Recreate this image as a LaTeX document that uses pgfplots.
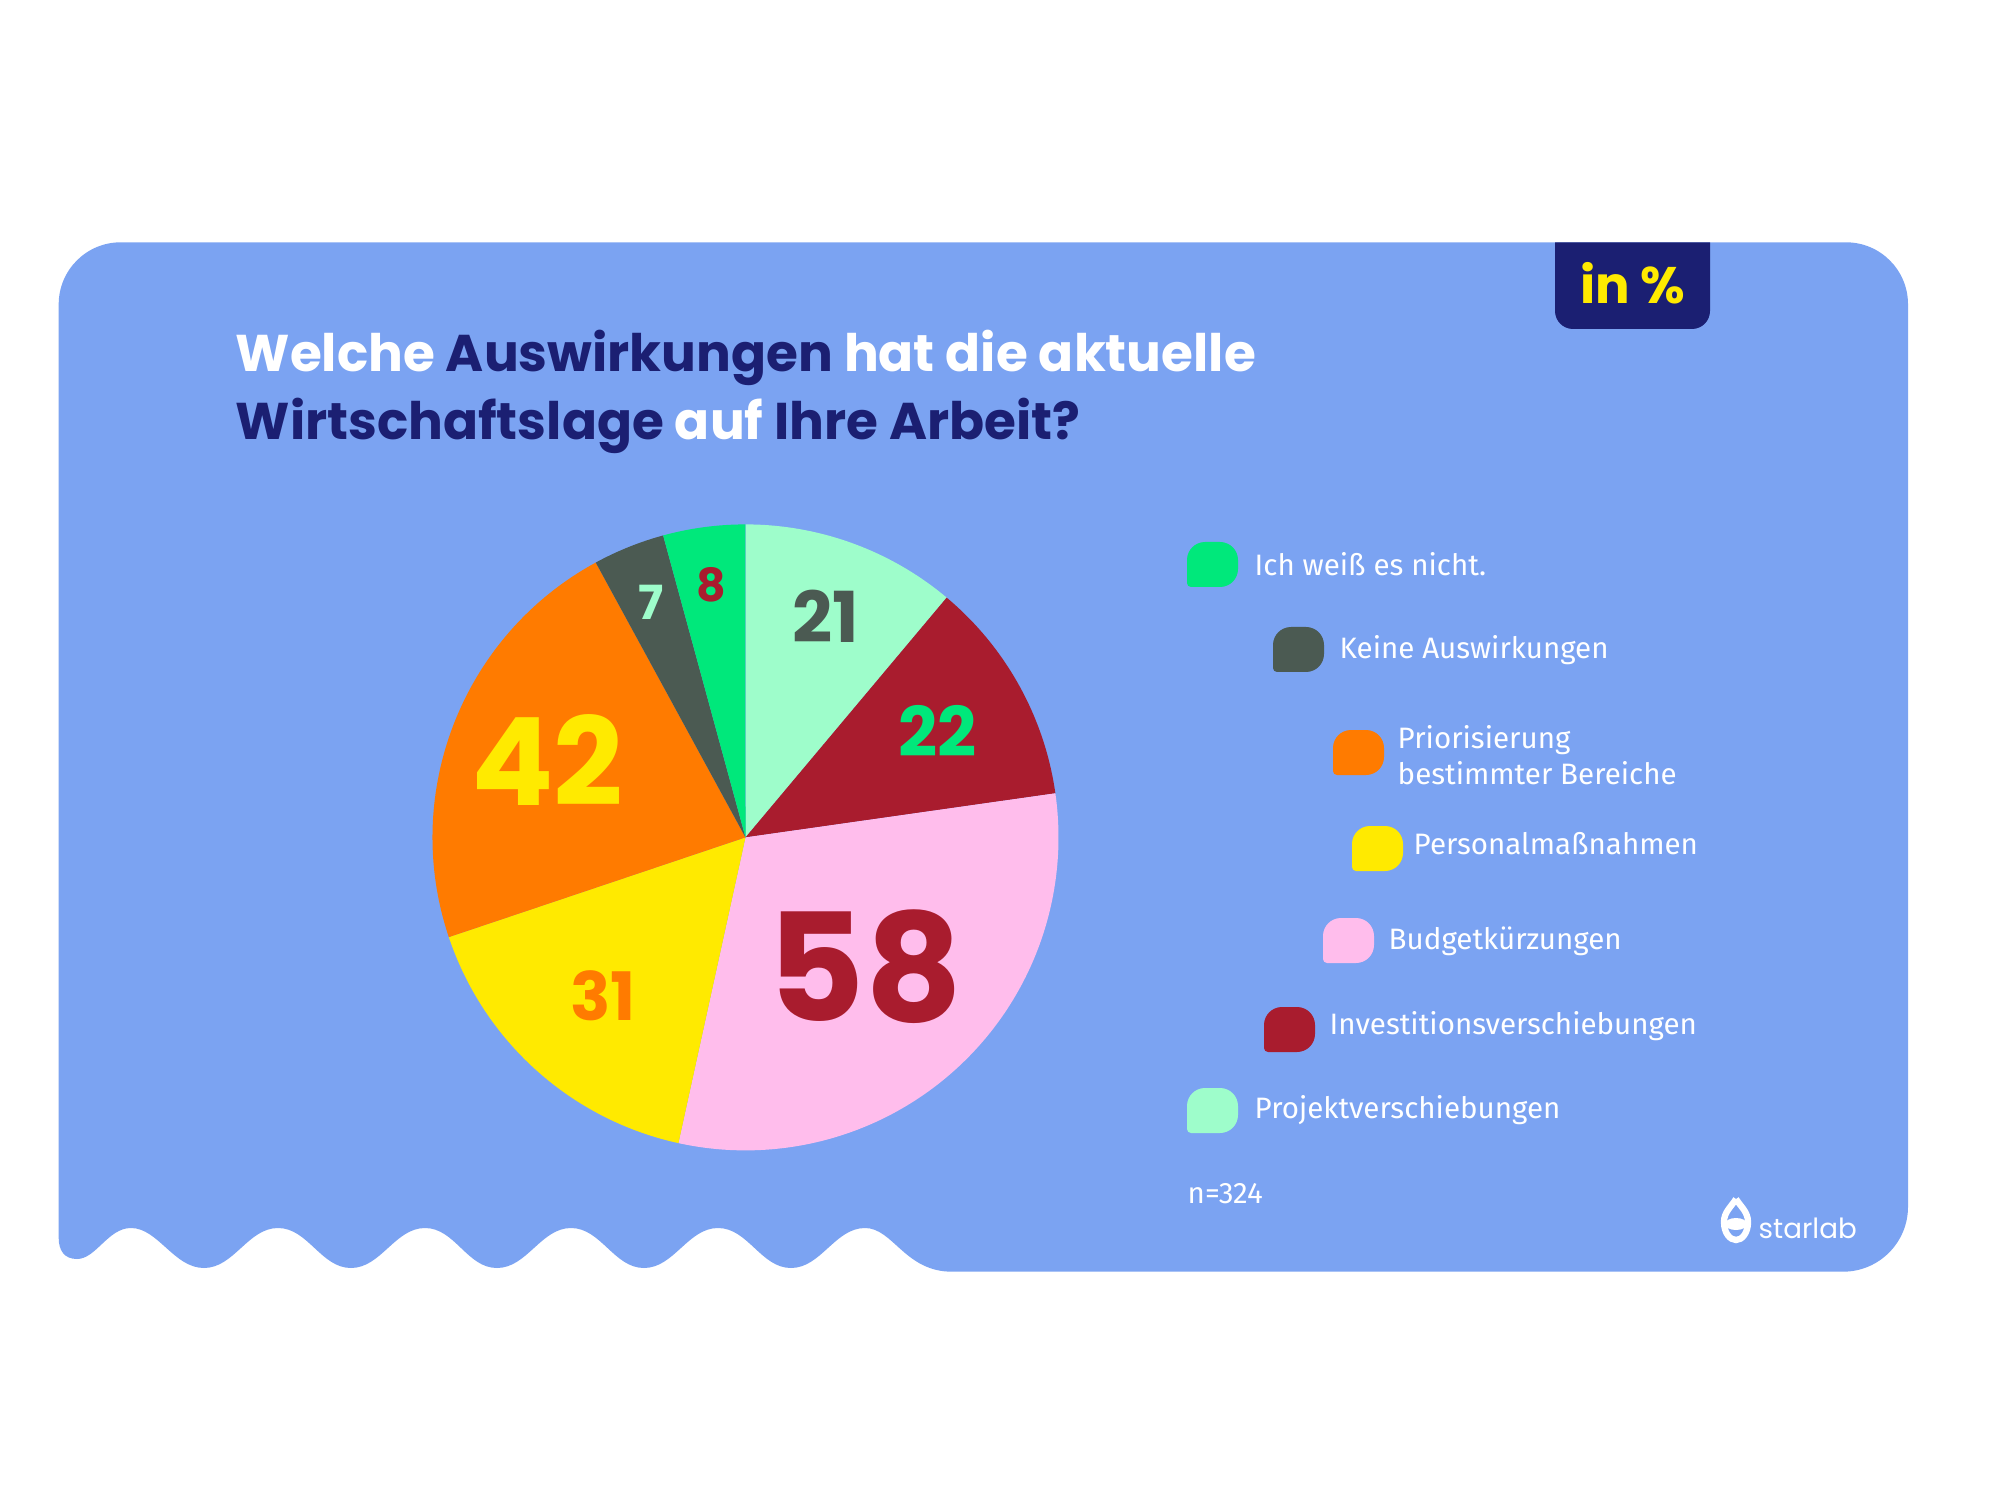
\documentclass[border=0pt]{standalone}
\usepackage{pgfplots}
\usepackage{pgfplotstable}
\pgfplotsset{compat=1.18}
\usepackage{fontspec}
\setmainfont{Fira Sans}
\newfontfamily\headfont{Poppins}

\definecolor{bgblue}{HTML}{7BA3F2}
\definecolor{navy}{HTML}{1B1F72}
\definecolor{cMint}{HTML}{9EFDCB}
\definecolor{cRed}{HTML}{A91C2E}
\definecolor{cPink}{HTML}{FFBDEC}
\definecolor{cYellow}{HTML}{FFEA00}
\definecolor{cOrange}{HTML}{FF7B00}
\definecolor{cGrey}{HTML}{4B5A52}
\definecolor{cGreen}{HTML}{00E87B}

% slices clockwise from 12 o'clock: value, fill, label colour, label size (pt), label radius
\pgfplotstableread{
value fill   txt     size rad
21    cMint  cGrey   20   235
22    cRed   cGreen  19.5 220
58    cPink  cRed    42.7 176
31    cYellow cOrange 19  213
42    cOrange cYellow 34.7 213
7     cGrey  cMint   13.4 253
8     cGreen cRed    13   255
}\piedata

% legend blob: bottom-left corner almost square, the others round
\newcommand\blob[3]{%
  \fill[#3] (#1,#2+4) -- (#1,#2+27) arc[start angle=180,end angle=90,radius=18]
    -- (#1+33,#2+45) arc[start angle=90,end angle=0,radius=18]
    -- (#1+51,#2+18) arc[start angle=0,end angle=-90,radius=18]
    -- (#1+4,#2) arc[start angle=-90,end angle=-180,radius=4] -- cycle;}

\begin{document}
\begin{tikzpicture}
\pgfmathsetmacro\total{0}
\pgfplotsforeachungrouped \i in {0,...,6}{%
  \pgfplotstablegetelem{\i}{value}\of\piedata
  \pgfmathsetmacro\total{\total+\pgfplotsretval}}
\begin{axis}[at={(0,0)}, anchor=south west, width=20cm, height=15cm,
  scale only axis, xmin=0, xmax=2000, ymin=0, ymax=1500,
  hide axis, clip=false]
  \fill[white] (0,0) rectangle (2000,1500);
  % card with wavy lower edge
  \fill[bgblue] (58.7,262) -- (58.7,1195.7) arc[start angle=180,end angle=90,radius=62]
    -- (1846,1257.7) arc[start angle=90,end angle=0,radius=62]
    -- (1908,293.3) arc[start angle=0,end angle=-90,radius=65]
    -- (952,228.3) .. controls (905,228.3) and (893,272) .. (865,272)
    .. controls (835,272) and (821,232) .. (791,232)
    .. controls (761,232) and (748,272) .. (718,272)
    .. controls (688,272) and (674,232) .. (644,232)
    .. controls (614,232) and (601,272) .. (571,272)
    .. controls (541,272) and (527,232) .. (497,232)
    .. controls (467,232) and (455,272) .. (425,272)
    .. controls (395,272) and (381,232) .. (351,232)
    .. controls (321,232) and (308,272) .. (278,272)
    .. controls (248,272) and (234,232) .. (204,232)
    .. controls (174,232) and (158,272) .. (131,272)
    .. controls (108,272) and (96,241) .. (77,241)
    .. controls (64,241) and (58.7,250) .. (58.7,262) -- cycle;
  % unit tab
  \fill[navy] (1555,1257.7) -- (1555,1189) arc[start angle=180,end angle=270,radius=18]
    -- (1692,1171) arc[start angle=-90,end angle=0,radius=18] -- (1710,1257.7) -- cycle;
  \node[text=cYellow, font=\headfont\bfseries\fontsize{14.6}{14.6}\selectfont]
    at (1633,1217) {in \%};
  % title
  \node[anchor=base west, font=\headfont\bfseries\fontsize{14.7}{14.7}\selectfont, inner sep=0]
    at (235,1128) {\textcolor{white}{Welche} \textcolor{navy}{Auswirkungen} \textcolor{white}{hat die aktuelle}};
  \node[anchor=base west, font=\headfont\bfseries\fontsize{14.7}{14.7}\selectfont, inner sep=0]
    at (235,1060) {\textcolor{navy}{Wirtschaftslage} \textcolor{white}{auf} \textcolor{navy}{Ihre Arbeit?}};

  % pie
  \def\cx{745.5}\def\cy{662.6}\def\R{313}
  \def\angA{90}
  \pgfplotsforeachungrouped \i in {0,...,6}{%
    \pgfplotstablegetelem{\i}{value}\of\piedata \let\v=\pgfplotsretval
    \pgfplotstablegetelem{\i}{fill}\of\piedata \let\fc=\pgfplotsretval
    \pgfplotstablegetelem{\i}{txt}\of\piedata \let\tc=\pgfplotsretval
    \pgfplotstablegetelem{\i}{size}\of\piedata \let\sz=\pgfplotsretval
    \pgfplotstablegetelem{\i}{rad}\of\piedata \let\rd=\pgfplotsretval
    \pgfmathsetmacro\angB{\angA-\v/\total*360}
    \pgfmathsetmacro\xs{\cx+\R*cos(\angA)}
    \pgfmathsetmacro\ys{\cy+\R*sin(\angA)}
    \pgfmathsetmacro\midang{(\angA+\angB)/2}
    \pgfmathsetmacro\lx{\cx+\rd*cos(\midang)}
    \pgfmathsetmacro\ly{\cy+\rd*sin(\midang)}
    \edef\slice{\noexpand\addplot[draw=none, fill=\fc] coordinates {(\cx,\cy) (\xs,\ys)}
      arc[start angle=\angA, end angle=\angB, radius=\R] -- cycle;}
    \slice
    \edef\lab{\noexpand\node[text=\tc, inner sep=0,
      font=\noexpand\headfont\noexpand\bfseries\noexpand\fontsize{\sz}{\sz}\noexpand\selectfont]
      at (\lx,\ly) {\v};}
    \lab
    \let\angA=\angB
  }

  % legend
  \blob{1187}{913}{cGreen}
  \blob{1273}{828}{cGrey}
  \blob{1333}{725}{cOrange}
  \blob{1352}{629}{cYellow}
  \blob{1323}{537}{cPink}
  \blob{1264}{448}{cRed}
  \blob{1187}{367}{cMint}
  \begin{scope}[every node/.style={anchor=west, text=white, inner sep=0,
      font=\fontsize{8.4}{10.2}\selectfont, align=left}]
    \node at (1254,936) {Ich weiß es nicht.};
    \node at (1339,850) {Keine Auswirkungen};
    \node at (1397,745) {Priorisierung\\bestimmter Bereiche};
    \node at (1413,656) {Personalmaßnahmen};
    \node at (1388,559) {Budgetkürzungen};
    \node at (1329,474) {Investitionsverschiebungen};
    \node at (1254,390) {Projektverschiebungen};
    \node at (1187,306) {n=324};
  \end{scope}

  % logo
  \draw[white, line width=1.8pt] (1736,301) .. controls (1731,293) and (1724,288) .. (1724,278)
    .. controls (1724,267) and (1730,260) .. (1736,260)
    .. controls (1742,260) and (1748,267) .. (1748,278)
    .. controls (1748,288) and (1741,293) .. (1736,301);
  \fill[white] (1736,276) ellipse[x radius=11, y radius=6];
  \node[anchor=west, text=white, inner sep=0, font=\headfont\fontsize{7.9}{7.9}\selectfont]
    at (1758,272) {starlab};
\end{axis}
\end{tikzpicture}
\end{document}
